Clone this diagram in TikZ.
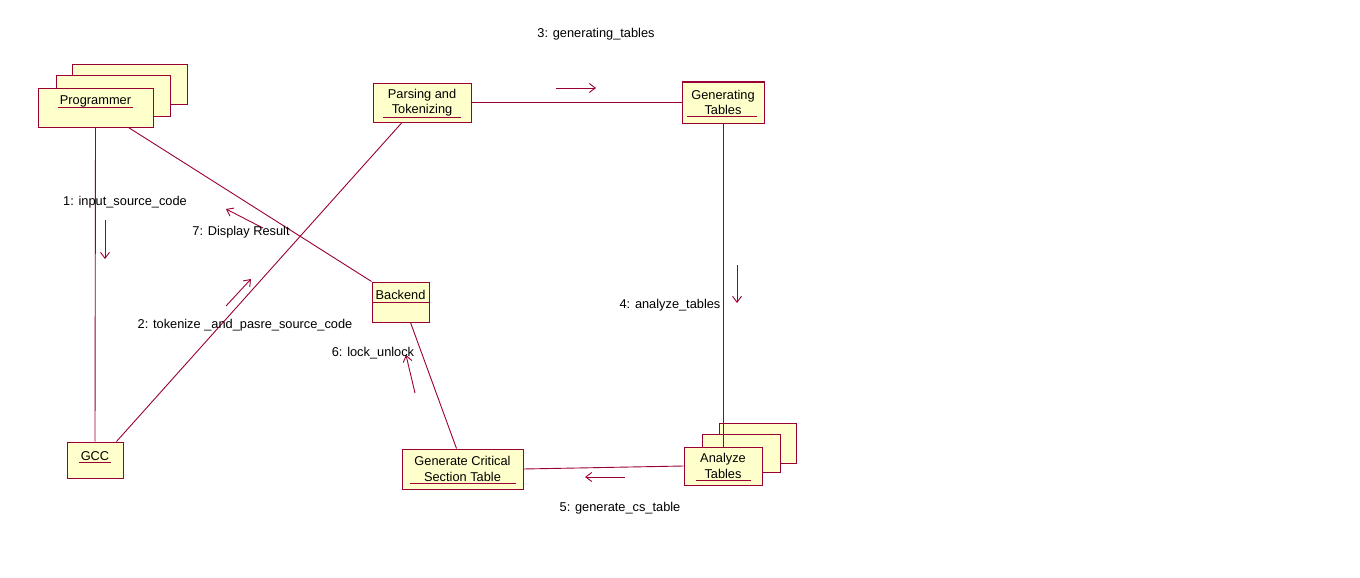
\documentclass[tikz,border=0pt]{standalone}
\usepackage{fontspec}
\setmainfont{Liberation Sans}
\usetikzlibrary{arrows.meta,calc}
\definecolor{umlborder}{RGB}{153,0,51}
\definecolor{umlfill}{RGB}{255,255,204}
\tikzset{
  obj/.style={draw=umlborder, fill=umlfill, line width=1pt, rectangle, inner sep=0pt, align=center,
    font=\fontsize{12.8}{15.5}\selectfont},
  link/.style={draw=umlborder, line width=0.9pt},
  msg/.style={draw=umlborder, line width=0.9pt, -{Straight Barb[length=6pt,width=9pt,line width=0.9pt]}},
  ul/.style={draw=umlborder, line width=1pt},
  lbl/.style={font=\fontsize{12.8}{14}\selectfont, inner sep=0pt, yshift=-1.5pt}
}
\begin{document}
\begin{tikzpicture}[x=1pt,y=-1pt]
\useasboundingbox[fill=white] (0,0) rectangle (1360,578);
% Programmer stack
\node[obj, minimum width=115, minimum height=39] (progb) at (129.5,84.5) {};
\node[obj, minimum width=114, minimum height=40] (progm) at (113,96) {};
\node[obj, minimum width=115, minimum height=39] (prog) at (95.5,107.5) {};
\node[lbl] (progt) at (95.5,100) {Programmer};
\draw[ul] (58,107) -- (133,107);
% Parsing
\node[obj, minimum width=98, minimum height=39] (par) at (422,102.5) {Parsing and\\Tokenizing};
\draw[ul] (383,117.5) -- (461,117.5);
% Generating Tables
\node[obj, minimum width=82, minimum height=41] (gen) at (723,102.5) {Generating\\Tables};
\draw[ul] (687,116.5) -- (757,116.5);
% Backend
\node[obj, minimum width=57, minimum height=40] (back) at (400.5,302) {};
\node[lbl] (backt) at (400.5,293) {Backend};
\draw[ul] (back.west |- 0,302) -- (back.east |- 0,302);
% GCC
\node[obj, minimum width=56, minimum height=36] (gcc) at (95,460) {};
\node[lbl] (gcct) at (95,455) {GCC};
\draw[ul] (79,462) -- (111,462);
% Generate Critical Section Table
\node[obj, minimum width=121, minimum height=40] (gcr) at (462.5,469) {Generate Critical\\Section Table};
\draw[ul] (410,483.5) -- (516,483.5);
% Analyze Tables stack
\node[obj, minimum width=77, minimum height=40] (anab) at (757.5,443) {};
\node[obj, minimum width=78, minimum height=38] (anam) at (741,453) {};
% connectors
\draw[link] (prog.south) -- (gcc.north);
\draw[link] ([xshift=33]prog.south) -- (back.north west);
\draw[link] ([xshift=-7]gcc.north east) -- ([xshift=-20]par.south);
\draw[link] (par.east) -- (par.east -| gen.west);
\draw[link] (gen.south) -- (gen.south |- 0,447);
\node[obj, minimum width=78, minimum height=38] (ana) at (723,466) {Analyze\\Tables};
\draw[ul] (696,480.5) -- (751,480.5);
\draw[link] (ana.west) -- (gcr.east);
\draw[link] ([xshift=10]back.south) -- ([xshift=-6]gcr.north);
% messages
\coordinate (m1a) at (105,220); \coordinate (m1b) at (105,259);
\draw[msg] (m1a) -- (m1b);
\node[lbl] (l1) at (125,201) {1: input\_source\_code};
\coordinate (m2a) at (226,306); \coordinate (m2b) at (251,279);
\draw[msg] (m2a) -- (m2b);
\node[lbl] (l2) at (245,324) {2: tokenize \_and\_pasre\_source\_code};
\coordinate (m3a) at (556,88); \coordinate (m3b) at (596,88);
\draw[msg] (m3a) -- (m3b);
\node[lbl] (l3) at (596,33) {3: generating\_tables};
\coordinate (m4a) at (737,265); \coordinate (m4b) at (737,303);
\draw[msg] (m4a) -- (m4b);
\node[lbl] (l4) at (670,304) {4: analyze\_tables};
\coordinate (m5a) at (625,477); \coordinate (m5b) at (585,477);
\draw[msg] (m5a) -- (m5b);
\node[lbl] (l5) at (620,507) {5: generate\_cs\_table};
\coordinate (m6a) at (415,393); \coordinate (m6b) at (406,355);
\draw[msg] (m6a) -- (m6b);
\node[lbl] (l6) at (373,352) {6: lock\_unlock};
\coordinate (m7a) at (263,228); \coordinate (m7b) at (226,209);
\draw[msg] (m7a) -- (m7b);
\node[lbl] (l7) at (241,231) {7: Display Result};
\end{tikzpicture}
\end{document}
